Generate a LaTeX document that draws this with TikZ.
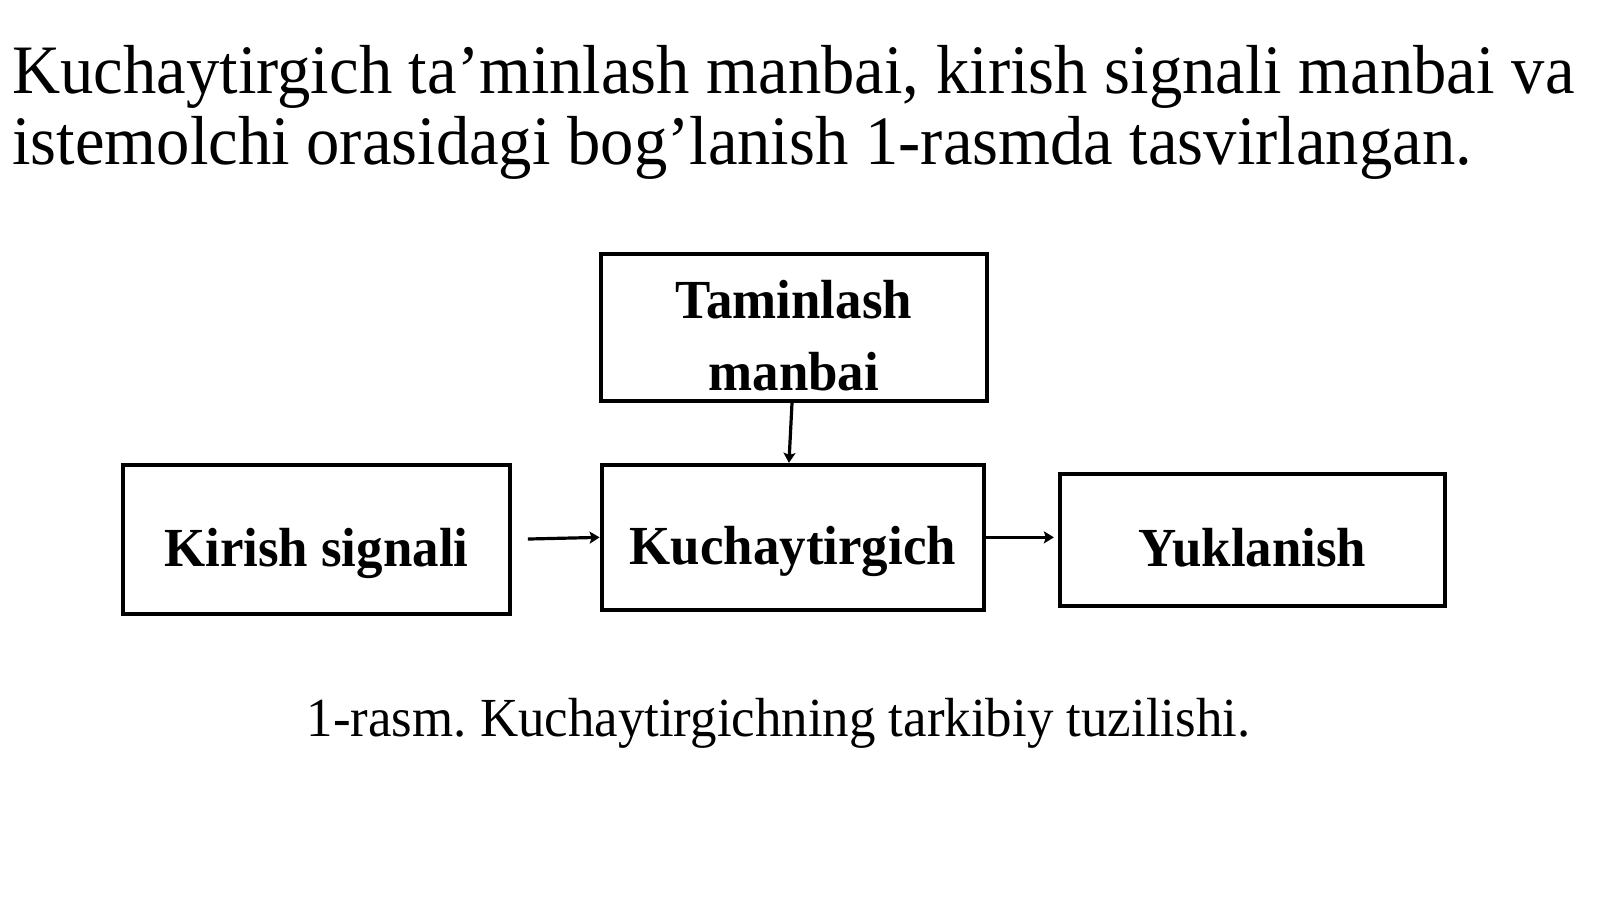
\documentclass[tikz,border=0pt]{standalone}
\usepackage{fontspec}
\setmainfont{Liberation Serif}[FakeStretch=0.96]
\usetikzlibrary{arrows.meta}
\frenchspacing
\begin{document}
\begin{tikzpicture}[x=1pt,y=-1pt,scale=1.0204,every node/.append style={transform shape},
  blk/.style={draw=black,line width=4pt,rectangle,inner sep=0pt},
  lbl/.style={anchor=base,inner sep=0pt,font=\fontsize{54}{60}\selectfont\bfseries},
  ttl/.style={anchor=base west,inner sep=0pt,font=\fontsize{68}{70}\selectfont},
  arr/.style={line width=3.2pt,-{Stealth[length=10pt,width=12pt,inset=2pt]}}]
\useasboundingbox (0,0) rectangle (1568,881);
\node[ttl] (t1) at (12,92) {Kuchaytirgich ta’minlash manbai, kirish signali manbai va};
\node[ttl] (t2) at (12,161) {istemolchi orasidagi bog’lanish 1-rasmda tasvirlangan.};
% boxes
\node[blk,minimum width=379pt,minimum height=144pt] (tam) at (778,320.5) {};
\node[blk,minimum width=379pt,minimum height=146pt] (kir) at (310,528.5) {};
\node[blk,minimum width=375pt,minimum height=142pt] (kuch) at (777,526.5) {};
\node[blk,minimum width=378pt,minimum height=129pt] (yuk) at (1227.5,529) {};
% labels
\node[lbl] (tamA) at (778,312) {Taminlash};
\node[lbl] (tamB) at (778,383) {manbai};
\node[lbl] (kirT) at (310,555) {Kirish signali};
\node[lbl] (kuchT) at (777,553) {Kuchaytirgich};
\node[lbl] (yukT) at (1227.5,555) {Yuklanish};
% connectors
\draw[arr] ([xshift=-2pt]tam.south) -- ([xshift=-4pt]kuch.north);
\draw[arr,shorten <=16pt] (kir.east) -- (kuch.west);
\draw[arr,shorten <=-4pt,shorten >=4pt] (kuch.east) -- (yuk.west |- kuch.east);
% caption
\node[anchor=base,inner sep=0pt,font=\fontsize{54}{60}\selectfont] (cap) at (763,722) {1-rasm. Kuchaytirgichning tarkibiy tuzilishi.};
\end{tikzpicture}
\end{document}
